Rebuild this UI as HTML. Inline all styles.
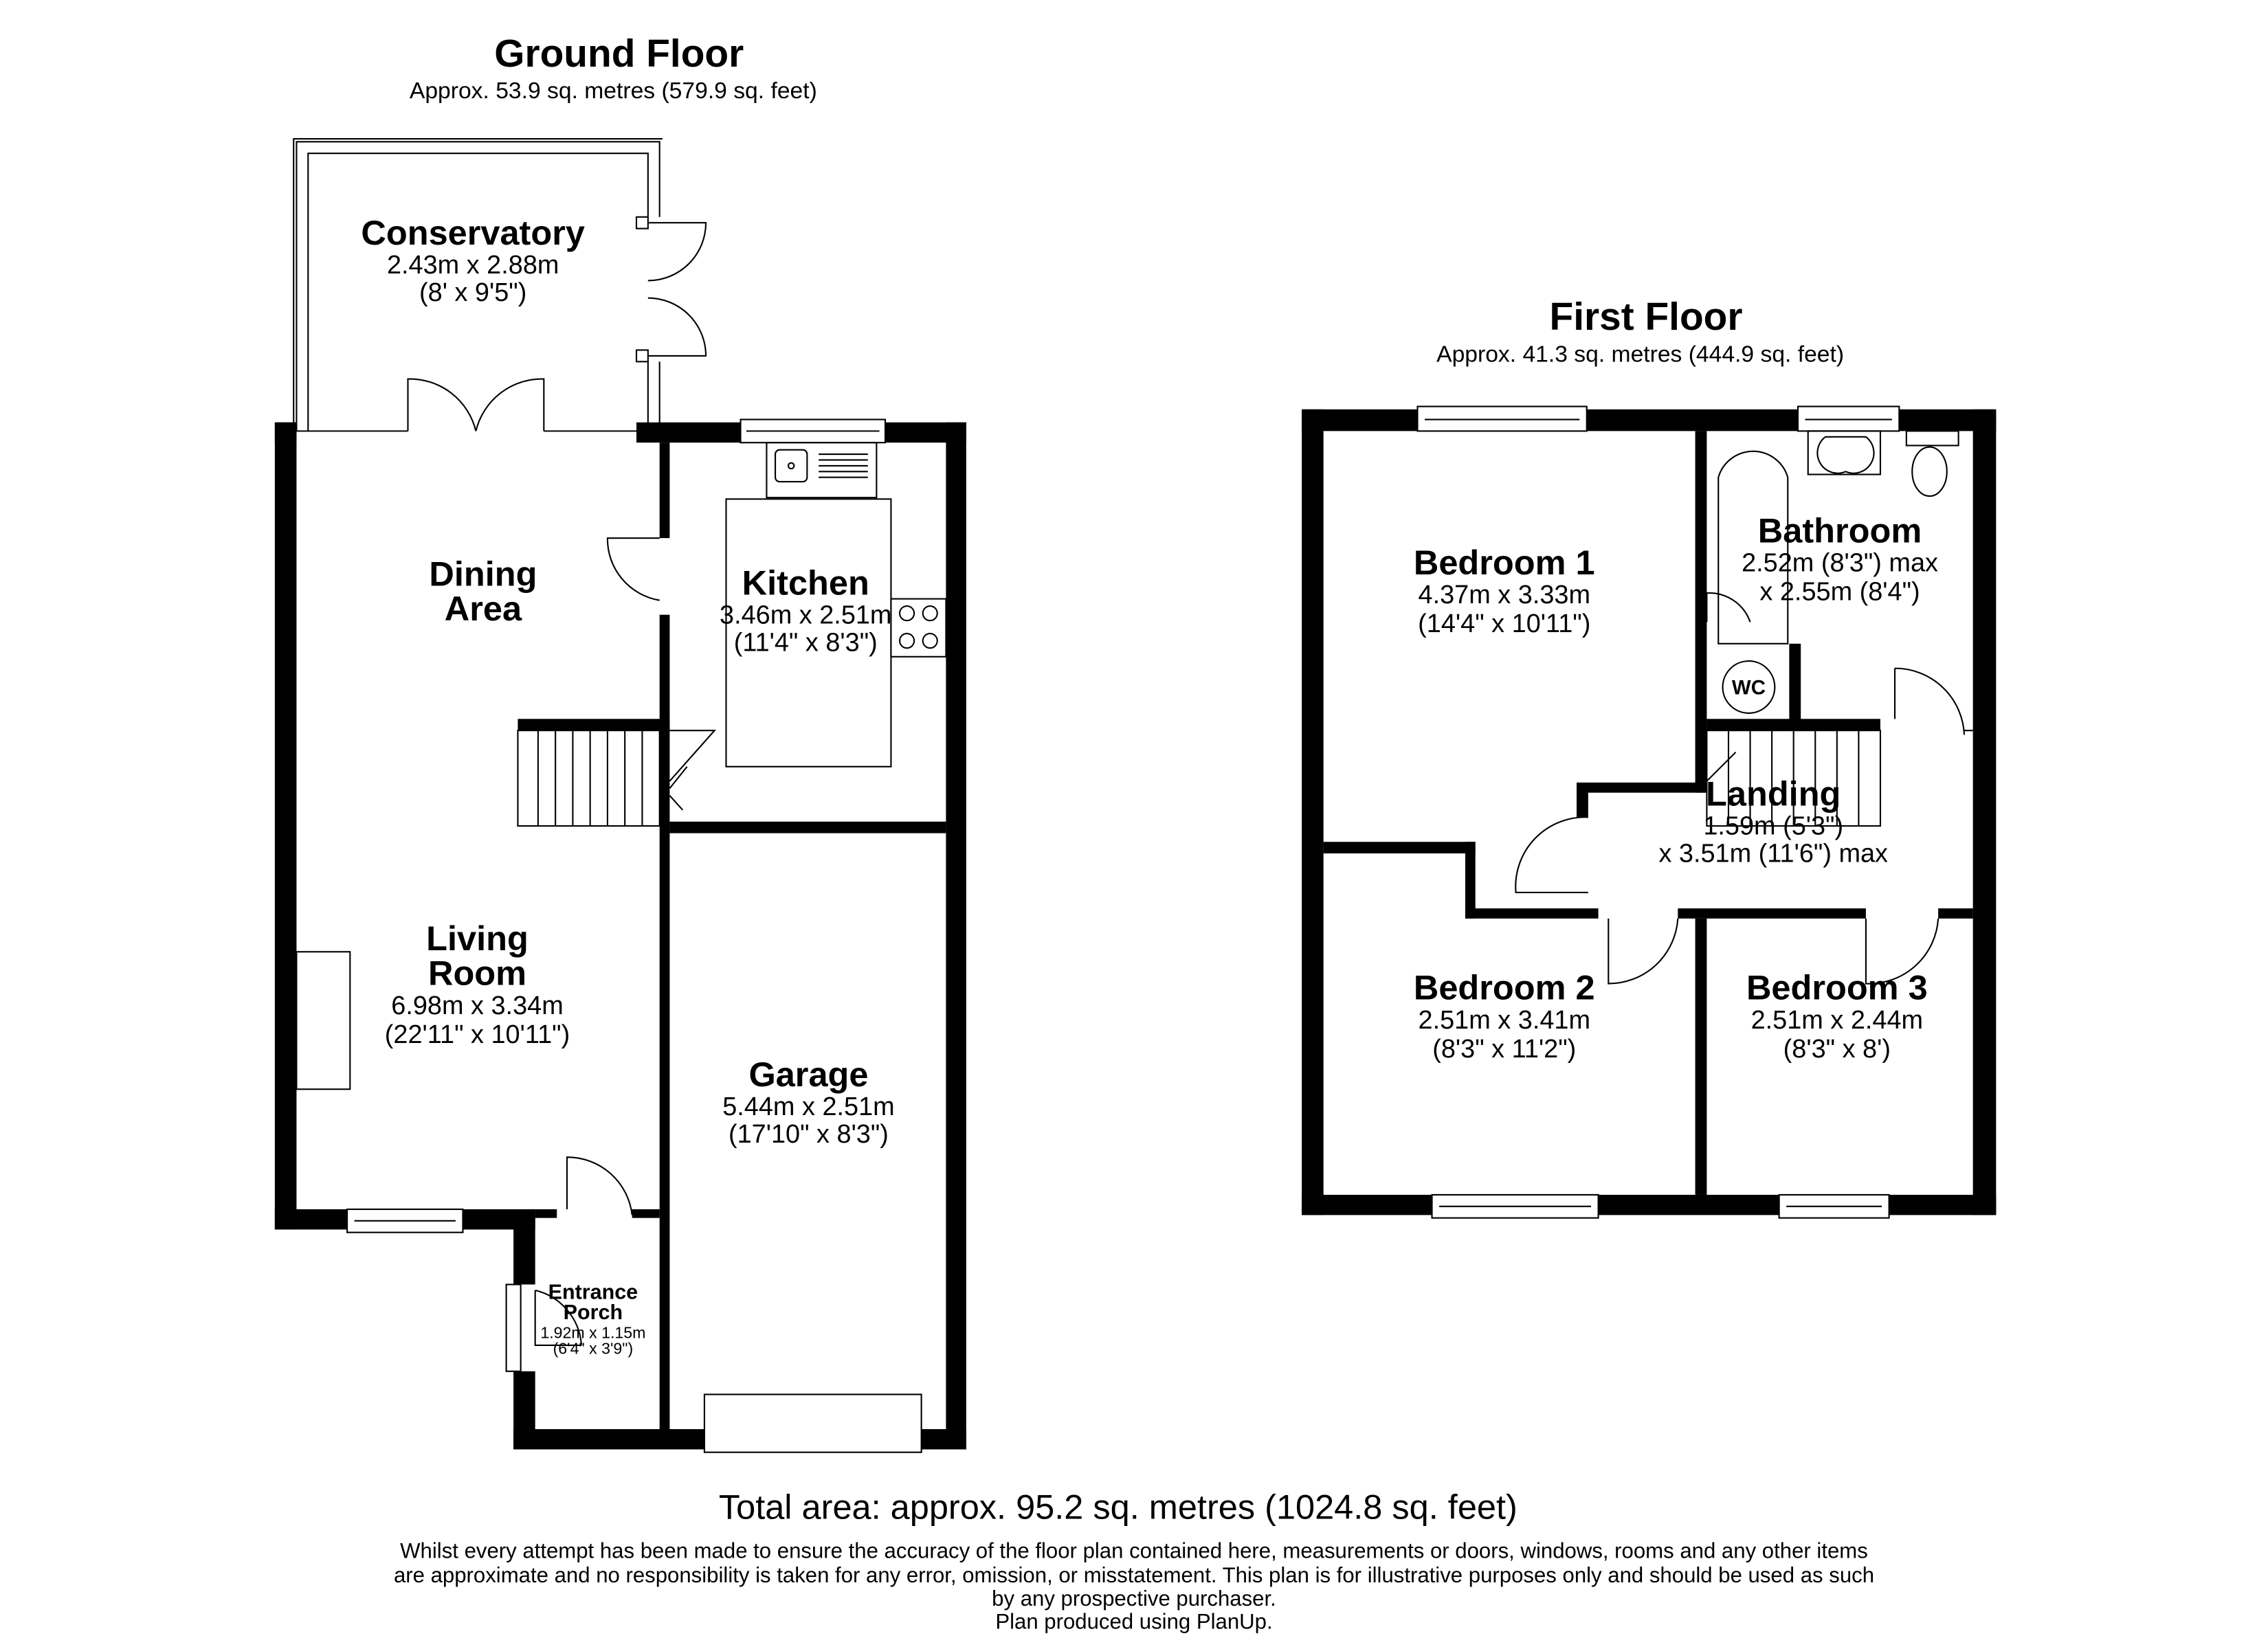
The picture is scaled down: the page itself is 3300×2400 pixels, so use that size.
<!DOCTYPE html>
<html><head><meta charset="utf-8"><style>html,body{margin:0;padding:0;background:#fff}svg{display:block}text{font-family:"Liberation Sans",Arial,sans-serif;fill:#000}</style></head><body>
<svg width="3300" height="2400" viewBox="0 0 1568 1140" preserveAspectRatio="none" xmlns="http://www.w3.org/2000/svg">
<rect width="1568" height="1140" fill="#fff"/>
<text x="428" y="46" font-size="27" font-weight="bold" text-anchor="middle">Ground Floor</text>
<text x="424" y="68" font-size="16" text-anchor="middle">Approx. 53.9 sq. metres (579.9 sq. feet)</text>
<text x="1138" y="228" font-size="27" font-weight="bold" text-anchor="middle">First Floor</text>
<text x="1134" y="250" font-size="16" text-anchor="middle">Approx. 41.3 sq. metres (444.9 sq. feet)</text>
<g fill="none" stroke="#000" stroke-width="1">
<path d="M205 298 V98 H456 V150 M456 250 V298"/>
<path d="M213 298 V106 H448 V150 M448 250 V298"/>
<path d="M203 300 V96 H458"/>
<rect x="440" y="150" width="8" height="8"/><rect x="440" y="242" width="8" height="8"/>
<path d="M448 154 H488 A40 40 0 0 1 448 194 M448 246 H488 A40 40 0 0 0 448 206"/>
<path d="M205 298 H282 M376 298 H440"/>
<path d="M282 298 V262 A47 47 0 0 1 329 298 M376 298 V262 A47 47 0 0 0 329 298"/>
</g>
<g fill="#000">
<rect x="190" y="292" width="15" height="558"/>
<rect x="190" y="292" width="15" height="14"/>
<rect x="440" y="292" width="72" height="14"/>
<rect x="612" y="292" width="56" height="14"/>
<rect x="654" y="292" width="14" height="710"/>
<rect x="190" y="836" width="50" height="14"/>
<rect x="320" y="836" width="50" height="14"/>
<rect x="355" y="836" width="15" height="52"/>
<rect x="355" y="948" width="15" height="54"/>
<rect x="355" y="988" width="132" height="14"/>
<rect x="637" y="988" width="31" height="14"/>
<rect x="370" y="836" width="15" height="6"/>
<rect x="437" y="836" width="19" height="6"/>
<rect x="456" y="306" width="7" height="66"/>
<rect x="456" y="425" width="7" height="565"/>
<rect x="463" y="568" width="191" height="8"/>
<rect x="358" y="497" width="105" height="8"/>
</g>
<g fill="none" stroke="#000" stroke-width="1">
<rect x="512" y="290" width="100" height="16"/><line x1="516" y1="298" x2="608" y2="298"/>
<rect x="240" y="836" width="80" height="16"/><line x1="245" y1="844" x2="315" y2="844"/>
<rect x="487" y="964" width="150" height="40"/>
<rect x="350" y="888" width="10" height="60"/>
<path d="M370 892 A42 42 0 0 1 402 930 M370 892 V930 H402"/>
<path d="M392 836 V800 A45 45 0 0 1 437 840 M392 836 V800"/>
<path d="M456 372 H420 A43 43 0 0 0 456 415"/>
<rect x="205" y="658" width="37" height="95"/>
<rect x="502" y="345" width="114" height="185"/>
<rect x="530" y="306" width="76" height="38"/><rect x="536" y="311" width="22" height="22" rx="3"/><circle cx="547" cy="322" r="2"/>
<path d="M566 314 H600 M566 318 H600 M566 322 H600 M566 326 H600 M566 330 H600"/>
<rect x="616" y="414" width="38" height="40"/><circle cx="627" cy="424" r="5"/><circle cx="643" cy="424" r="5"/><circle cx="627" cy="443" r="5"/><circle cx="643" cy="443" r="5"/>
<rect x="358" y="505" width="98" height="66"/>
<path d="M372 505 V571 M384 505 V571 M396 505 V571 M408 505 V571 M420 505 V571 M432 505 V571 M444 505 V571"/>
<path d="M463 505 H494 L463 540 M463 545 L475 530 M463 550 L472 560"/>
</g>
<g fill="#000">
<rect x="900" y="283" width="15" height="557"/>
<rect x="900" y="283" width="80" height="15"/>
<rect x="1097" y="283" width="146" height="15"/>
<rect x="1313" y="283" width="67" height="15"/>
<rect x="1364" y="283" width="16" height="557"/>
<rect x="900" y="826" width="90" height="14"/>
<rect x="1105" y="826" width="125" height="14"/>
<rect x="1306" y="826" width="74" height="14"/>
<rect x="1172" y="298" width="8" height="250"/>
<rect x="1172" y="635" width="8" height="191"/>
<rect x="915" y="582" width="105" height="8"/>
<rect x="1013" y="582" width="7" height="53"/>
<rect x="1013" y="628" width="92" height="7"/>
<rect x="1160" y="628" width="130" height="7"/>
<rect x="1340" y="628" width="24" height="7"/>
<rect x="1180" y="497" width="120" height="8"/>
<rect x="1237" y="445" width="8" height="60"/>
<rect x="1090" y="541" width="90" height="7"/>
<rect x="1090" y="541" width="8" height="24"/>
</g>
<g fill="none" stroke="#000" stroke-width="1">
<rect x="980" y="281" width="117" height="17"/><line x1="985" y1="290" x2="1092" y2="290"/>
<rect x="1243" y="281" width="70" height="17"/><line x1="1248" y1="290" x2="1308" y2="290"/>
<rect x="990" y="826" width="115" height="16"/><line x1="995" y1="834" x2="1100" y2="834"/>
<rect x="1230" y="826" width="76" height="16"/><line x1="1235" y1="834" x2="1301" y2="834"/>
<path d="M1098 565 A48 48 0 0 0 1048 617 H1098"/>
<path d="M1112 635 V680 A48 48 0 0 0 1160 635"/>
<path d="M1290 635 V680 A48 48 0 0 0 1340 635"/>
<path d="M1310 462 V497 M1310 462 A48 48 0 0 1 1358 508 M1358 505 H1364"/>
<path d="M1188 445 V330 A25 25 0 0 1 1236 330 V445 Z"/>
<path d="M1180 430 V410 A30 30 0 0 1 1210 430"/>
<circle cx="1209" cy="475" r="18"/>
<rect x="1250" y="298" width="50" height="30"/><path d="M1262 302 H1290 A14 14 0 0 1 1276 326 A14 14 0 0 1 1262 302"/>
<rect x="1318" y="298" width="36" height="10"/><ellipse cx="1334" cy="326" rx="12" ry="17"/>
<rect x="1180" y="505" width="120" height="66"/>
<path d="M1195 505 V571 M1210 505 V571 M1225 505 V571 M1240 505 V571 M1255 505 V571 M1270 505 V571 M1285 505 V571 M1180 540 L1200 520"/>
</g>
<text x="1209" y="480" font-size="14" font-weight="bold" text-anchor="middle">WC</text>
<g text-anchor="middle">
<text x="327" y="169" font-size="24" font-weight="bold">Conservatory</text>
<text x="327" y="189" font-size="18">2.43m x 2.88m</text>
<text x="327" y="208" font-size="18">(8' x 9'5")</text>
<text x="334" y="405" font-size="24" font-weight="bold">Dining</text>
<text x="334" y="429" font-size="24" font-weight="bold">Area</text>
<text x="557" y="411" font-size="24" font-weight="bold">Kitchen</text>
<text x="557" y="431" font-size="18">3.46m x 2.51m</text>
<text x="557" y="450" font-size="18">(11'4" x 8'3")</text>
<text x="330" y="657" font-size="24" font-weight="bold">Living</text>
<text x="330" y="681" font-size="24" font-weight="bold">Room</text>
<text x="330" y="701" font-size="18">6.98m x 3.34m</text>
<text x="330" y="721" font-size="18">(22'11" x 10'11")</text>
<text x="559" y="751" font-size="24" font-weight="bold">Garage</text>
<text x="559" y="771" font-size="18">5.44m x 2.51m</text>
<text x="559" y="790" font-size="18">(17'10" x 8'3")</text>
<text x="410" y="898" font-size="14.5" font-weight="bold">Entrance</text>
<text x="410" y="912" font-size="14.5" font-weight="bold">Porch</text>
<text x="410" y="925" font-size="11">1.92m x 1.15m</text>
<text x="410" y="936" font-size="11">(6'4" x 3'9")</text>
<text x="1040" y="397" font-size="24" font-weight="bold">Bedroom 1</text>
<text x="1040" y="417" font-size="18">4.37m x 3.33m</text>
<text x="1040" y="437" font-size="18">(14'4" x 10'11")</text>
<text x="1272" y="375" font-size="24" font-weight="bold">Bathroom</text>
<text x="1272" y="395" font-size="18">2.52m (8'3") max</text>
<text x="1272" y="415" font-size="18">x 2.55m (8'4")</text>
<text x="1226" y="557" font-size="24" font-weight="bold">Landing</text>
<text x="1226" y="577" font-size="18">1.59m (5'3")</text>
<text x="1226" y="596" font-size="18">x 3.51m (11'6") max</text>
<text x="1040" y="691" font-size="24" font-weight="bold">Bedroom 2</text>
<text x="1040" y="711" font-size="18">2.51m x 3.41m</text>
<text x="1040" y="731" font-size="18">(8'3" x 11'2")</text>
<text x="1270" y="691" font-size="24" font-weight="bold">Bedroom 3</text>
<text x="1270" y="711" font-size="18">2.51m x 2.44m</text>
<text x="1270" y="731" font-size="18">(8'3" x 8')</text>
<text x="773" y="1050" font-size="24">Total area: approx. 95.2 sq. metres (1024.8 sq. feet)</text>
<text x="784" y="1077" font-size="14.8">Whilst every attempt has been made to ensure the accuracy of the floor plan contained here, measurements or doors, windows, rooms and any other items</text>
<text x="784" y="1094" font-size="14.8">are approximate and no responsibility is taken for any error, omission, or misstatement. This plan is for illustrative purposes only and should be used as such</text>
<text x="784" y="1110" font-size="14.8">by any prospective purchaser.</text>
<text x="784" y="1126" font-size="14.8">Plan produced using PlanUp.</text>
</g>
</svg>
</body></html>
